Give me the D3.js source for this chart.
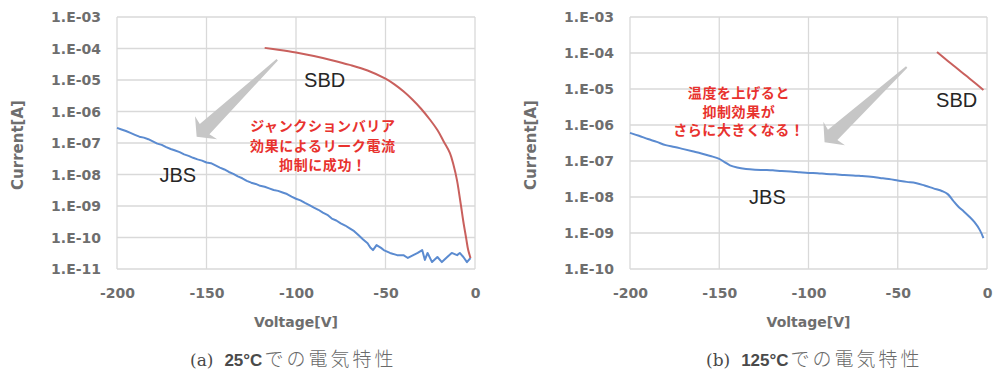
<!DOCTYPE html>
<html><head><meta charset="utf-8">
<script src="https://cdn.jsdelivr.net/npm/d3@7/dist/d3.min.js"></script>
<style>body{margin:0;background:#fff}</style></head>
<body><svg id="c" width="994" height="374"></svg>
<script>
// ---------- DATA ----------
const xTickValues = [-200, -150, -100, -50, 0];
const yTickExpA = [-11, -10, -9, -8, -7, -6, -5, -4, -3];
const yTickExpB = [-10, -9, -8, -7, -6, -5, -4, -3];

// (a) 25°C : [Voltage V, log10(Current A)]
const jbs25 = [[-200,-6.52],[-197.5,-6.57],[-195,-6.62],[-192.5,-6.68],[-190,-6.74],[-187.5,-6.80],[-185,-6.83],[-182.5,-6.88],[-180,-6.95],[-177.5,-7.02],[-175,-7.06],[-172.5,-7.13],[-170,-7.19],[-167.5,-7.24],[-165,-7.29],[-162.5,-7.36],[-160,-7.41],[-157.5,-7.47],[-155,-7.52],[-152.5,-7.56],[-150,-7.62],[-147.5,-7.64],[-145,-7.71],[-142.5,-7.78],[-140,-7.84],[-137.5,-7.92],[-135,-7.98],[-132.5,-8.06],[-130,-8.12],[-127.5,-8.20],[-125,-8.26],[-122.5,-8.30],[-120,-8.36],[-117.5,-8.39],[-115,-8.44],[-112.5,-8.49],[-110,-8.52],[-107.5,-8.57],[-105,-8.62],[-102.5,-8.70],[-100,-8.77],[-97.5,-8.82],[-95,-8.90],[-92.5,-8.97],[-90,-9.05],[-87.5,-9.12],[-85,-9.21],[-82.5,-9.28],[-80,-9.40],[-77.5,-9.46],[-75,-9.55],[-72.5,-9.62],[-70,-9.71],[-67.5,-9.80],[-65,-9.93],[-62.5,-10.06],[-60,-10.18],[-58.5,-10.32],[-57,-10.40],[-55,-10.24],[-52.5,-10.33],[-51,-10.40],[-47.5,-10.49],[-43.5,-10.56],[-40,-10.56],[-37.5,-10.65],[-34.5,-10.56],[-32,-10.49],[-29.5,-10.40],[-28,-10.71],[-26.5,-10.49],[-24,-10.78],[-21,-10.62],[-18.5,-10.78],[-15.5,-10.62],[-13,-10.49],[-10,-10.56],[-8.5,-10.49],[-6.5,-10.62],[-4.5,-10.78],[-2.5,-10.65]];
const sbd25 = [[-117.5,-3.98],[-110,-4.04],[-100,-4.13],[-90,-4.24],[-80,-4.37],[-70,-4.52],[-60,-4.70],[-50,-4.96],[-45,-5.14],[-40,-5.36],[-35,-5.62],[-30,-5.92],[-25,-6.27],[-21,-6.59],[-17.5,-6.95],[-14,-7.32],[-12,-7.70],[-10.1,-8.17],[-9,-8.55],[-7.8,-9.0],[-6.5,-9.5],[-5,-10.0],[-3.8,-10.4],[-2.5,-10.65]];

// (b) 125°C
const jbs125 = [[-200,-6.22],[-195,-6.30],[-190,-6.39],[-185,-6.47],[-180,-6.56],[-175,-6.61],[-170,-6.67],[-165,-6.73],[-160,-6.79],[-155,-6.86],[-150,-6.94],[-147,-7.03],[-144,-7.12],[-140,-7.18],[-135,-7.22],[-130,-7.24],[-125,-7.25],[-120,-7.26],[-115,-7.28],[-110,-7.29],[-105,-7.31],[-100,-7.33],[-95,-7.34],[-90,-7.36],[-85,-7.37],[-80,-7.39],[-75,-7.40],[-70,-7.42],[-65,-7.44],[-60,-7.47],[-55,-7.50],[-50,-7.54],[-45,-7.58],[-40,-7.61],[-35,-7.68],[-30,-7.76],[-25,-7.84],[-22,-7.92],[-19,-8.10],[-16,-8.27],[-13,-8.40],[-10,-8.54],[-7,-8.70],[-4,-8.92],[-2,-9.14]];
const sbd125 = [[-28,-3.97],[-20,-4.30],[-12,-4.62],[-6,-4.86],[-2,-5.03]];

const notesA = ["ジャンクションバリア", "効果によるリーク電流", "抑制に成功！"];
const notesB = ["温度を上げると", "抑制効果が", "さらに大きくなる！"];
const captionA = ["(a)", "25°C", "での電気特性"];
const captionB = ["(b)", "125°C", "での電気特性"];

// ---------- DRAW ----------
const svg = d3.select("#c");
const gridC = "#d9d9d9", tickC = "#6e6e6e";
const blue = "#5b8bd0", red = "#c9605d", noteC = "#e8322e";

function panel(o) {
  const x = d3.scaleLinear().domain([-200, 0]).range([o.x0, o.x1]);
  const y = d3.scaleLog().domain([Math.pow(10, o.exps[0]), Math.pow(10, o.exps[o.exps.length - 1])]).range([269, 17]);
  const g = svg.append("g");
  // grid
  g.selectAll(".hg").data(o.exps).join("line")
    .attr("x1", o.x0).attr("x2", o.x1)
    .attr("y1", d => y(Math.pow(10, d))).attr("y2", d => y(Math.pow(10, d)))
    .attr("stroke", gridC).attr("stroke-width", 1.3);
  g.selectAll(".vg").data(xTickValues).join("line")
    .attr("x1", d => x(d)).attr("x2", d => x(d)).attr("y1", 17).attr("y2", 269)
    .attr("stroke", gridC).attr("stroke-width", 1.3);
  // y tick labels
  g.selectAll(".yl").data(o.exps).join("text")
    .attr("x", o.x0 - 16).attr("y", d => y(Math.pow(10, d))).attr("dy", "0.36em")
    .attr("text-anchor", "end").attr("fill", tickC)
    .style("font", "bold 14px 'DejaVu Sans'")
    .text(d => "1.E" + (d < 0 ? "-" : "+") + String(Math.abs(d)).padStart(2, "0"));
  // x tick labels
  const xa = d3.axisBottom(x).tickValues(xTickValues).tickSize(0).tickPadding(0).tickFormat(d => String(d));
  const ax = g.append("g").attr("transform", "translate(0,269)").call(xa);
  ax.select(".domain").remove();
  ax.selectAll("text").attr("y", 24).attr("dy", "0.36em").attr("fill", tickC)
    .style("font", "bold 14px 'DejaVu Sans'");
  // axis titles
  g.append("text").attr("x", (o.x0 + o.x1) / 2).attr("y", 322).attr("dy", "0.36em")
    .attr("text-anchor", "middle").attr("fill", tickC)
    .style("font", "bold 14px 'DejaVu Sans'").text("Voltage[V]");
  g.append("text").attr("transform", `translate(${o.x0 - 99},145) rotate(-90)`).attr("dy", "0.36em")
    .attr("text-anchor", "middle").attr("fill", tickC)
    .style("font", "bold 15px 'DejaVu Sans'").text("Current[A]");
  // lines
  const line = d3.line().x(d => x(d[0])).y(d => y(Math.pow(10, d[1])));
  const smooth = d3.line().curve(d3.curveCatmullRom).x(d => x(d[0])).y(d => y(Math.pow(10, d[1])));
  g.append("path").datum(o.jbs).attr("d", o.smoothJbs ? smooth : line).attr("fill", "none").attr("stroke", blue).attr("stroke-width", 2).attr("stroke-linejoin", "round");
  g.append("path").datum(o.sbd).attr("d", smooth).attr("fill", "none").attr("stroke", red).attr("stroke-width", 2).attr("stroke-linejoin", "round");
  // arrow
  const t = [x(o.arrow[0][0]), y(Math.pow(10, o.arrow[0][1]))];
  const h = [x(o.arrow[1][0]), y(Math.pow(10, o.arrow[1][1]))];
  const dx = h[0] - t[0], dy = h[1] - t[1], L = Math.hypot(dx, dy);
  const ux = dx / L, uy = dy / L, px = -uy, py = ux;
  const hl = 11, bw = 7, hw = 16, tw = 1;
  const bx = h[0] - ux * hl, by = h[1] - uy * hl;
  const pts = [
    [t[0] + px * tw, t[1] + py * tw],
    [bx + px * bw, by + py * bw],
    [bx + px * hw - ux * 2, by + py * hw - uy * 2],
    h,
    [bx - px * hw - ux * 2, by - py * hw - uy * 2],
    [bx - px * bw, by - py * bw],
    [t[0] - px * tw, t[1] - py * tw]
  ];
  g.append("polygon").attr("points", pts.map(p => p.join(",")).join(" ")).attr("fill", "#c6c6c6");
  // labels
  g.append("text").attr("x", x(o.sbdLab[0])).attr("y", y(Math.pow(10, o.sbdLab[1]))).attr("dy", "0.36em")
    .attr("text-anchor", "middle").attr("fill", "#262626").style("font", "20px 'Liberation Sans'").text("SBD");
  g.append("text").attr("x", x(o.jbsLab[0])).attr("y", y(Math.pow(10, o.jbsLab[1]))).attr("dy", "0.36em")
    .attr("text-anchor", "middle").attr("fill", "#262626").style("font", "20px 'Liberation Sans'").text("JBS");
  // notes
  g.selectAll(".nt").data(o.notes).join("text")
    .attr("x", x(o.noteAt[0])).attr("y", (d, i) => o.noteY + i * o.noteDy).attr("dy", "0.36em")
    .attr("text-anchor", "middle").attr("fill", noteC)
    .style("font", "bold 14px 'Noto Sans CJK JP'").style("letter-spacing", "0.6px").text(d => d);
  // caption
  const cap = g.append("text").attr("x", o.capX).attr("y", 360).attr("dy", "0.36em").attr("fill", "#4a4a4a");
  cap.append("tspan").style("font", "17px 'DejaVu Serif'").text(o.caption[0]);
  cap.append("tspan").attr("dx", 11).style("font", "bold 17px 'Liberation Sans'").text(o.caption[1]);
  cap.append("tspan").attr("dx", 2).style("font", "300 19px 'Noto Sans CJK JP'").attr("fill", "#6a6a6a").style("letter-spacing", "3px").text(o.caption[2]);
}

panel({x0: 117, x1: 475, exps: yTickExpA, jbs: jbs25, sbd: sbd25, smoothJbs: false,
  arrow: [[-110.5, -4.36], [-155.5, -6.80]],
  sbdLab: [-84, -5.0], jbsLab: [-166, -8.0],
  notes: notesA, noteAt: [-85], noteY: 126, noteDy: 19.5, capX: 190, caption: captionA});
panel({x0: 630, x1: 987, exps: yTickExpB, jbs: jbs125, sbd: sbd125, smoothJbs: true,
  arrow: [[-45, -4.39], [-91, -6.48]],
  sbdLab: [-17, -5.30], jbsLab: [-123, -8.0],
  notes: notesB, noteAt: [-139], noteY: 93, noteDy: 18.5, capX: 706, caption: captionB});
</script></body></html>
